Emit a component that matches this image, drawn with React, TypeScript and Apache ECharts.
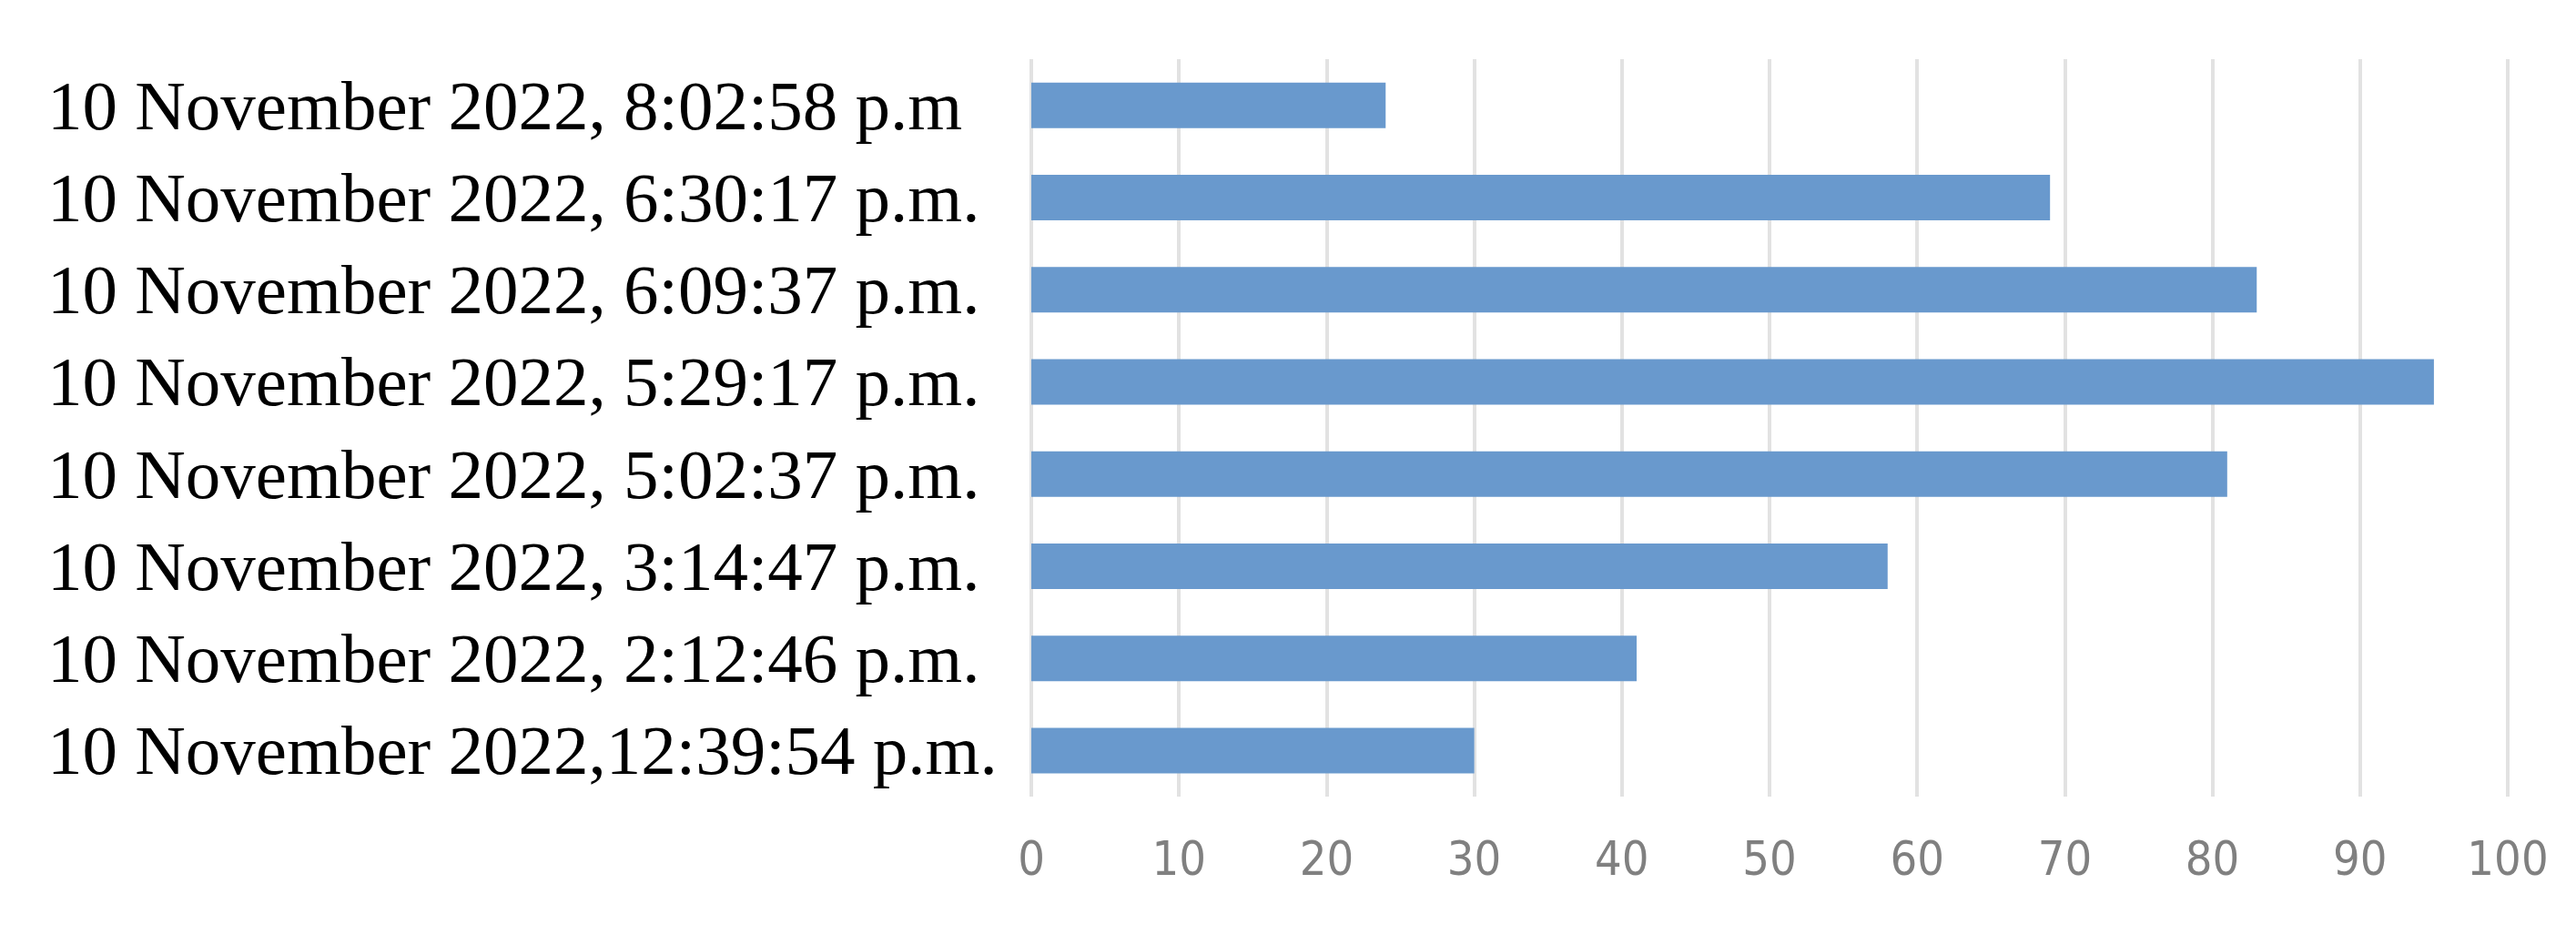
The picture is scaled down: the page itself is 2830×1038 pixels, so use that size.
import React, { useEffect, useRef } from "react";
import * as echarts from "echarts";

const categories = [
  "10 November 2022, 8:02:58 p.m",
  "10 November 2022, 6:30:17 p.m.",
  "10 November 2022, 6:09:37 p.m.",
  "10 November 2022, 5:29:17 p.m.",
  "10 November 2022, 5:02:37 p.m.",
  "10 November 2022, 3:14:47 p.m.",
  "10 November 2022, 2:12:46 p.m.",
  "10 November 2022,12:39:54 p.m.",
];
const values = [24, 69, 83, 95, 81, 58, 41, 30];
const xMin = 0;
const xMax = 100;
const xInterval = 10;

export default function App() {
  const ref = useRef<HTMLDivElement>(null);
  useEffect(() => {
    document.body.style.margin = "0";
    const chart = echarts.init(ref.current!, null, { renderer: "svg" });
    chart.setOption({
      animation: false,
      backgroundColor: "#ffffff",
      grid: { left: 1133, right: 75, top: 65, bottom: 163, containLabel: false },
      xAxis: {
        type: "value",
        min: xMin,
        max: xMax,
        interval: xInterval,
        axisLine: { show: false },
        axisTick: { show: false },
        splitLine: { show: true, lineStyle: { color: "#e2e2e2", width: 4 } },
        axisLabel: {
          margin: 42,
          fontSize: 52,
          color: "#808080",
          fontFamily: "'Liberation Sans Narrow', 'DejaVu Sans Condensed', sans-serif",
        },
      },
      yAxis: {
        type: "category",
        inverse: true,
        data: categories,
        axisLine: { show: false },
        axisTick: { show: false },
        splitLine: { show: false },
        axisLabel: {
          align: "left",
          margin: 1081,
          fontSize: 77,
          color: "#000000",
          fontFamily: "'Liberation Serif', 'Times New Roman', serif",
        },
      },
      series: [
        {
          type: "bar",
          data: values,
          barWidth: 50,
          itemStyle: { color: "#6999cd" },
        },
      ],
    });
    return () => chart.dispose();
  }, []);
  return (
    <div
      ref={ref}
      style={{ position: "absolute", left: 0, top: 0, width: 2830, height: 1038 }}
    />
  );
}
